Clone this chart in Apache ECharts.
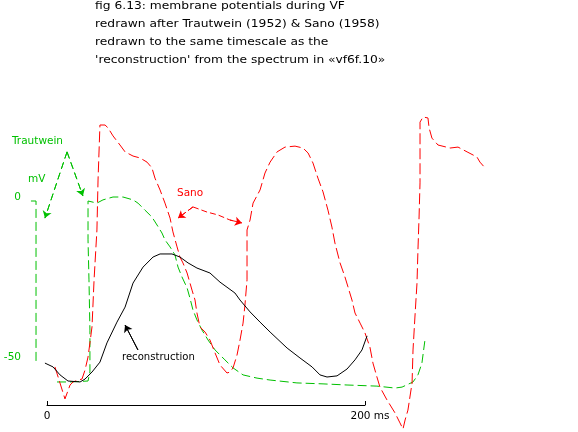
<!DOCTYPE html>
<html><head><meta charset="utf-8">
<script src="https://cdn.jsdelivr.net/npm/echarts@6/dist/echarts.min.js"></script>
<style>html,body{margin:0;padding:0;background:#fff}#c{width:578px;height:432px}</style>
</head><body><div id="c"></div><script>
// ---- text ----
const titleLines = [
  'fig 6.13: membrane potentials during VF',
  'redrawn after Trautwein (1952) & Sano (1958)',
  'redrawn to the same timescale as the',
  "'reconstruction' from the spectrum in \u00abvf6f.10\u00bb"
];
const seriesNames = ['Sano', 'Trautwein', 'reconstruction'];
const yUnit = 'mV';
const yTickValues = [0, -50];
const timeTicks = [0, 200];
const timeUnit = 'ms';

// ---- data: [time ms, potential mV] ----
const sano = [[5.0,-53.1],[11.3,-63.1],[14.5,-58.75],[16.4,-57.8],[19.5,-57.2],[22.0,-56.9],[23.9,-54.1],[25.8,-50],[27.0,-45.6],[28.3,-40.6],[29.6,-25.9],[31.4,-10.3],[32.1,5.3],[33.3,22.5],[36.5,22.5],[38.4,21.6],[41.5,19.1],[45.9,16.25],[49.1,14.1],[54.1,12.8],[58.5,12.2],[62.9,10.9],[66.0,9.1],[67.9,5.9],[71.1,2.2],[74.2,-1.9],[77.4,-6.6],[79.2,-10.9],[81.8,-15.6],[83.6,-18.75],[85.5,-20.6],[88.1,-23.75],[91.2,-29.1],[93.1,-32.2],[94.3,-36.25],[96.2,-40.6],[99.4,-42.2],[102.5,-44.7],[105.7,-48.75],[108.8,-52.5],[113.2,-55],[115.1,-54.7],[117.0,-53.4],[119.5,-49.4],[121.4,-44.7],[123.3,-39.4],[124.5,-33.75],[125.8,-25.9],[125.8,-16.6],[125.8,-10.3],[127.7,-7.2],[129.6,-1.9],[134.0,2.2],[137.1,7.5],[140.3,10.9],[144.7,14.1],[149.7,15.6],[156.0,15.9],[161.0,15.3],[164.2,13.75],[167.3,10.6],[170.4,5.9],[173.6,1.6],[176.7,-4.1],[179.2,-9.4],[181.1,-14.4],[184.3,-20.6],[187.4,-25],[189.3,-28.1],[191.8,-32.2],[193.7,-36.25],[196.9,-39.4],[200.0,-42.5],[203.1,-46.9],[205.0,-51.9],[207.5,-56.25],[209.4,-59.4],[213.8,-63.4],[218.9,-67.5],[222.0,-70.6],[223.9,-72.5],[225.2,-69.7],[227.0,-66.6],[229.6,-58.1],[230.2,-47.8],[231.4,-37.5],[232.7,-26.9],[233.3,-16.6],[234.0,-6.25],[234.6,4.4],[234.6,14.7],[234.6,23.4],[236.5,25],[239.6,24.7],[240.3,21.6],[242.1,18.4],[245.9,16.25],[253.5,15.3],[258.5,15.6],[264.2,14.1],[270.4,12.5],[272.3,10.9],[275.5,9.1]];

const trautwein = [[6.3,-57.8],[14.5,-57.8],[25.8,-57.5],[27.0,-54.7],[27.0,-41.6],[26.4,-25.9],[25.8,-13.4],[25.8,-1.25],[31.4,-1.9],[35.2,-0.9],[41.5,0],[47.8,0],[54.1,-0.9],[57.2,-1.9],[61.6,-4.1],[66.0,-6.25],[69.2,-8.75],[72.3,-11.25],[74.2,-13.4],[77.4,-15.6],[80.5,-18.1],[82.4,-21.9],[84.9,-25],[88.1,-28.4],[89.9,-31.6],[91.8,-35.3],[94.3,-38.4],[97.5,-41.6],[101.3,-44.7],[105.7,-47.8],[111.9,-50.9],[117.0,-53.4],[123.3,-55.6],[132.1,-56.6],[140.3,-57.2],[157.2,-58.1],[173.6,-58.4],[188.7,-58.75],[207.5,-59.1],[218.9,-59.7],[223.3,-59.4],[230.2,-57.8],[233.3,-55.6],[235.8,-51.9],[237.7,-44.7]];

const reconstruction = [[-1.3,-51.9],[3.8,-53.1],[8.2,-55.6],[13.2,-57.5],[20.8,-57.8],[23.9,-56.9],[28.3,-54.7],[33.3,-51.6],[37.7,-45.6],[44.0,-39.1],[49.1,-34.4],[54.1,-26.9],[60.4,-21.9],[66.7,-18.75],[71.1,-17.8],[78.6,-17.8],[83.6,-18.75],[88.7,-20.6],[94.3,-22.2],[102.5,-23.75],[108.8,-26.6],[118.2,-30],[121.4,-32.2],[127.7,-35.9],[134.0,-39.1],[140.3,-42.2],[151.0,-47.2],[159.1,-50.3],[166.7,-53.1],[171.7,-55.6],[176.1,-56.25],[182.4,-55.9],[188.7,-53.75],[193.7,-50.9],[198.1,-47.8],[201.3,-43.4]];

// mV scale bar (0 .. -50 mV) and annotation arrows
const mvScaleBar = [[-10.1,-1.25],[-6.9,-1.25],[-6.9,-51.6]];
const trautArrowL = [[12.6,14.1],[-1.3,-6.6]];
const trautArrowR = [[12.6,14.1],[22.6,0.3]];
const sanoArrowL = [[91.8,-3.1],[82.4,-6.6]];
const sanoArrowR = [[91.8,-3.1],[100.6,-4.7],[107.5,-5.6],[115.1,-7.2],[122.6,-8.1]];
const reconArrow = [[57.2,-47.8],[49.1,-40]];

// ---- styles ----
const RED = '#ff0000', GREEN = '#00c000', BLACK = '#000000';
const FONT = '"DejaVu Sans", sans-serif';

function ln(data, color, type, arrow, z) {
  const s = {
    type: 'line', data: data, xAxisIndex: 0, yAxisIndex: 0,
    symbol: 'none', showSymbol: false, clip: false, silent: true,
    lineStyle: { color: color, width: 1, type: type }, z: z || 2,
    emphasis: { disabled: true }
  };
  if (arrow) {
    s.markLine = {
      silent: true, symbol: ['none', 'arrow'], symbolSize: 7,
      label: { show: false }, emphasis: { disabled: true },
      lineStyle: { color: color, width: 1, type: type },
      data: [[{ coord: data[data.length - 2] }, { coord: data[data.length - 1] }]]
    };
  }
  return s;
}

const chart = echarts.init(document.getElementById('c'), null, { renderer: 'canvas' });
const dashR = [11, 4], dashG = [9, 4];

function txt(text, x, y, color, size, sx) {
  return { type: 'text', x: x, y: y, scaleX: sx || 1, silent: true,
    style: { text: text, fill: color, fontSize: size, fontFamily: FONT, align: 'left', verticalAlign: 'middle' } };
}

chart.setOption({
  animation: false,
  backgroundColor: '#ffffff',
  grid: [
    { left: 0, right: 0, top: 0, bottom: 0 },
    { left: 47, width: 318, top: 380, height: 25 }
  ],
  xAxis: [
    { gridIndex: 0, type: 'value', min: -29.56, max: 333.96, show: false },
    { gridIndex: 1, type: 'value', min: timeTicks[0], max: timeTicks[1], interval: timeTicks[1] - timeTicks[0],
      axisLine: { show: true, lineStyle: { color: BLACK, width: 1 } },
      axisTick: { show: true, inside: true, length: 4, lineStyle: { color: BLACK } },
      splitLine: { show: false },
      axisLabel: { color: BLACK, fontSize: 10.5, fontFamily: FONT, margin: 6,
        formatter: function (v) { return v === timeTicks[1] ? '   ' + v + ' ' + timeUnit : String(v); } } }
  ],
  yAxis: [
    { gridIndex: 0, type: 'value', min: -73.4375, max: 61.5625,
      axisLine: { show: false }, axisTick: { show: false }, splitLine: { show: false },
      axisLabel: { show: true, customValues: yTickValues, inside: true, align: 'right', margin: 21,
        color: GREEN, fontSize: 10.5, fontFamily: FONT } },
    { gridIndex: 1, type: 'value', show: false }
  ],
  series: [
    ln(trautwein, GREEN, dashG, false, 2),
    ln(mvScaleBar, GREEN, dashG, false, 2),
    ln(trautArrowL, GREEN, [7, 4], true, 2),
    ln(trautArrowR, GREEN, [7, 4], true, 2),
    ln(sano, RED, dashR, false, 3),
    ln(sanoArrowL, RED, [6, 3], true, 3),
    ln(sanoArrowR, RED, [6, 3], true, 3),
    ln(reconstruction, BLACK, 'solid', false, 4),
    ln(reconArrow, BLACK, 'solid', true, 4)
  ],
  graphic: [
    txt(titleLines[0], 95, 6, BLACK, 10.5, 1.17),
    txt(titleLines[1], 95, 24, BLACK, 10.5, 1.17),
    txt(titleLines[2], 95, 42, BLACK, 10.5, 1.17),
    txt(titleLines[3], 95, 60, BLACK, 10.5, 1.17),
    txt(seriesNames[1], 12, 141, GREEN, 10.5),
    txt(yUnit, 28, 179, GREEN, 10.5),
    txt(seriesNames[0], 177, 193, RED, 10.5),
    txt(seriesNames[2], 122, 357, BLACK, 10.5, 0.96)
  ]
});
</script></body></html>
